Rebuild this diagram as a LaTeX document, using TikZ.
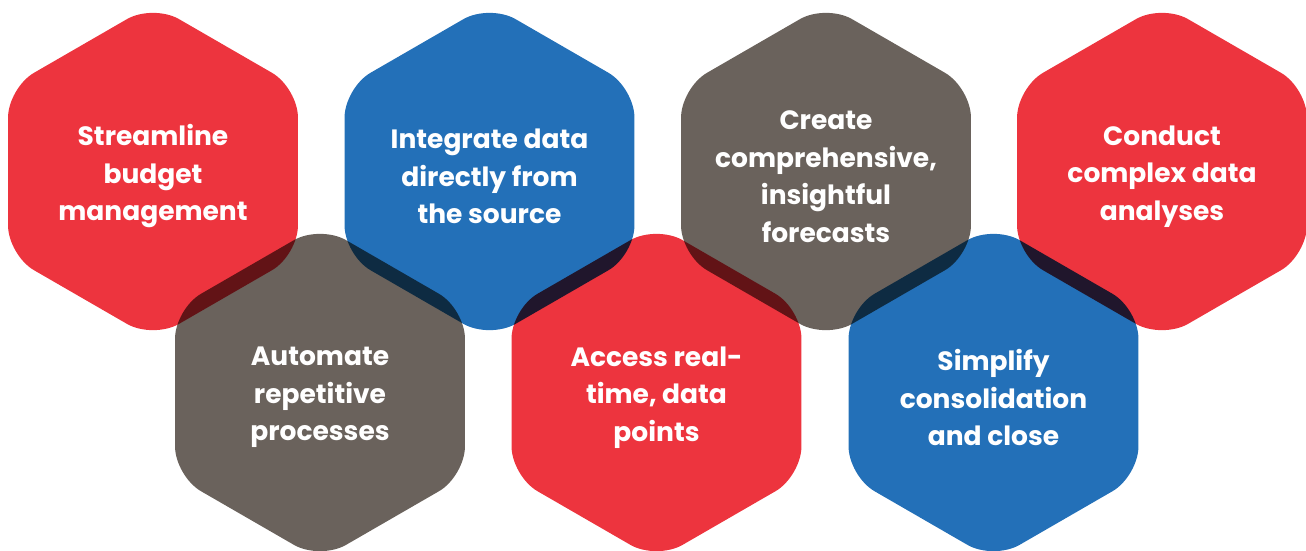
\documentclass[tikz,border=0pt]{standalone}
\usepackage{fontspec}
\setmainfont{Poppins}
\usepackage{xcolor}
\definecolor{HexRed}{HTML}{ED343E}
\definecolor{HexBlue}{HTML}{2370B8}
\definecolor{HexGray}{HTML}{6A625C}
\usetikzlibrary{shapes.geometric}

\begin{document}
\begin{tikzpicture}[x=1pt,y=-1pt,
 hex/.style={regular polygon,regular polygon sides=6,shape border rotate=30,
  minimum size=334.8pt,inner sep=0pt,outer sep=0pt,rounded corners=30pt},
 lbl/.style={text=white,align=center,yshift=-5pt,
  font=\bfseries\fontsize{26.5}{37.5}\selectfont}]
\useasboundingbox (0,0) rectangle (1306,550);
% overlaps darken like ink on paper
\begin{scope}[blend mode=multiply]
\node[hex,fill=HexRed] (budget) at (153,171.5) {};
\node[hex,fill=HexBlue] (integrate) at (489.5,171.5) {};
\node[hex,fill=HexGray] (forecast) at (826,171.5) {};
\node[hex,fill=HexRed] (analyse) at (1162,171.5) {};
\node[hex,fill=HexGray] (automate) at (320,392.5) {};
\node[hex,fill=HexRed] (access) at (656.5,392.5) {};
\node[hex,fill=HexBlue] (simplify) at (993.5,392.5) {};
\end{scope}
\node[lbl] (t1) at (budget) {Streamline\\budget\\management};
\node[lbl] (t2) at (integrate) {Integrate data\\directly from\\the source};
\node[lbl] (t3) at (forecast) {Create\\comprehensive,\\insightful\\forecasts};
\node[lbl] (t4) at (analyse) {Conduct\\complex data\\analyses};
\node[lbl] (t5) at (automate) {Automate\\repetitive\\processes};
\node[lbl] (t6) at (access) {Access real-\\time, data\\points};
\node[lbl] (t7) at (simplify) {Simplify\\consolidation\\and close};
\end{tikzpicture}
\end{document}
